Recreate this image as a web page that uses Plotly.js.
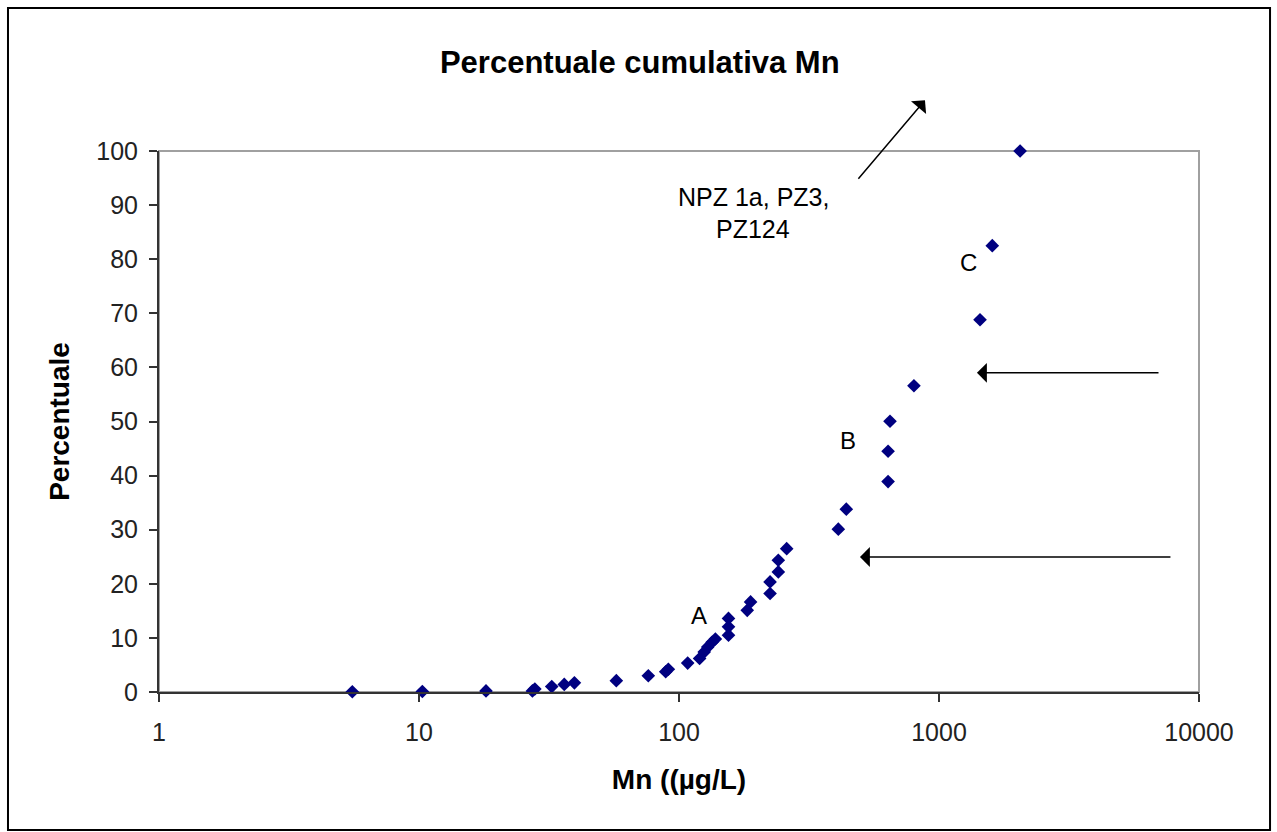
<!DOCTYPE html>
<html>
<head>
<meta charset="utf-8">
<script src="https://cdn.plot.ly/plotly-3.0.1.min.js"></script>
<style>html,body{margin:0;padding:0;background:#fff;}#chart{width:1277px;height:832px;}</style>
</head>
<body>
<div id="chart"></div>
<script>
// Mn concentration (µg/L) and cumulative percentage
var mn = [5.54, 10.3, 18.1, 27.3, 27.9, 32.4, 36.2, 39.6, 57.4, 76.2, 88.9, 91.0, 108, 120, 125, 129, 134, 138, 155, 155, 155, 183, 188.5, 224, 224, 241, 241, 259.5, 410, 440, 637, 637, 648, 801, 1438, 1603, 2051];
var perc = [0.05, 0.1, 0.2, 0.2, 0.55, 1.0, 1.4, 1.7, 2.1, 3.0, 3.75, 4.2, 5.35, 6.2, 7.4, 8.3, 9.2, 9.8, 10.5, 12.05, 13.6, 15.1, 16.65, 18.2, 20.35, 22.2, 24.35, 26.5, 30.1, 33.8, 38.9, 44.5, 50.05, 56.6, 68.8, 82.5, 100];
var xTickVals = [1, 10, 100, 1000, 10000];
var xTickText = ["1", "10", "100", "1000", "10000"];
var yTickVals = [0, 10, 20, 30, 40, 50, 60, 70, 80, 90, 100];

var font = "Liberation Sans, Arial, sans-serif";

var trace = {
  x: mn, y: perc, type: "scatter", mode: "markers",
  marker: {symbol: "diamond", size: 10.5, color: "#000080", line: {width: 0}},
  cliponaxis: false, hoverinfo: "x+y"
};

var layout = {
  width: 1277, height: 832,
  margin: {l: 159, r: 78, t: 151, b: 140, pad: 0},
  paper_bgcolor: "#ffffff", plot_bgcolor: "#ffffff",
  showlegend: false,
  font: {family: font, color: "#000"},
  title: {text: "<b>Percentuale cumulativa Mn</b>", font: {family: font, size: 31, color: "#000"},
          x: 0.501, xref: "container", xanchor: "center", y: 0.9255, yref: "container", yanchor: "middle"},
  xaxis: {
    type: "log", range: [0, 4], tickvals: xTickVals, ticktext: xTickText,
    showgrid: false, zeroline: false, showline: true, linecolor: "#333", linewidth: 2,
    ticks: "outside", ticklen: 8, tickwidth: 2, tickcolor: "#333",
    tickfont: {family: font, size: 25, color: "#222"}, ticklabelstandoff: 9,
    title: {text: "<b>Mn ((µg/L)</b>", font: {family: font, size: 28, color: "#000"}, standoff: 24}
  },
  yaxis: {
    range: [0, 100], tickvals: yTickVals,
    showgrid: false, zeroline: false, showline: true, linecolor: "#333", linewidth: 2,
    ticks: "outside", ticklen: 8, tickwidth: 2, tickcolor: "#333",
    tickfont: {family: font, size: 25, color: "#222"}, ticklabelstandoff: 6,
    title: {text: "<b>Percentuale</b>", font: {family: font, size: 28, color: "#000"}, standoff: 18}
  },
  shapes: [
    {type: "rect", xref: "paper", yref: "paper", x0: 0, x1: 1, y0: 0, y1: 1,
     line: {color: "#a0a0a0", width: 2}, layer: "below"},
    {type: "rect", xref: "paper", yref: "paper", x0: -0.1452, x1: 1.0683, y0: -0.2551, y1: 1.2643,
     line: {color: "#000", width: 2}}
  ],
  annotations: [
    {x: 2.077, y: 14.2, xref: "x", yref: "y", text: "A", showarrow: false, font: {family: font, size: 24, color: "#000"}},
    {x: 2.65, y: 46.4, xref: "x", yref: "y", text: "B", showarrow: false, font: {family: font, size: 24, color: "#000"}},
    {x: 3.115, y: 79.3, xref: "x", yref: "y", text: "C", showarrow: false, font: {family: font, size: 24, color: "#000"}},
    {x: 2.285, y: 91.5, xref: "x", yref: "y", text: "NPZ 1a, PZ3,", showarrow: false, font: {family: font, size: 25, color: "#000"}},
    {x: 2.285, y: 85.6, xref: "x", yref: "y", text: "PZ124", showarrow: false, font: {family: font, size: 25, color: "#000"}},
    {x: 2.946, y: 109.4, ax: 2.685, ay: 94.6, xref: "x", yref: "y", axref: "x", ayref: "y", text: "",
     showarrow: true, arrowhead: 1, arrowsize: 2.2, arrowwidth: 1.5, arrowcolor: "#000", standoff: 0, startstandoff: 0},
    {x: 3.146, y: 59.0, ax: 3.85, ay: 59.0, xref: "x", yref: "y", axref: "x", ayref: "y", text: "",
     showarrow: true, arrowhead: 1, arrowsize: 2.2, arrowwidth: 1.5, arrowcolor: "#000", standoff: 0, startstandoff: 0},
    {x: 2.696, y: 24.95, ax: 3.896, ay: 24.95, xref: "x", yref: "y", axref: "x", ayref: "y", text: "",
     showarrow: true, arrowhead: 1, arrowsize: 2.2, arrowwidth: 1.5, arrowcolor: "#000", standoff: 0, startstandoff: 0}
  ]
};

Plotly.newPlot("chart", [trace], layout, {displayModeBar: false, staticPlot: true});
</script>
</body>
</html>
